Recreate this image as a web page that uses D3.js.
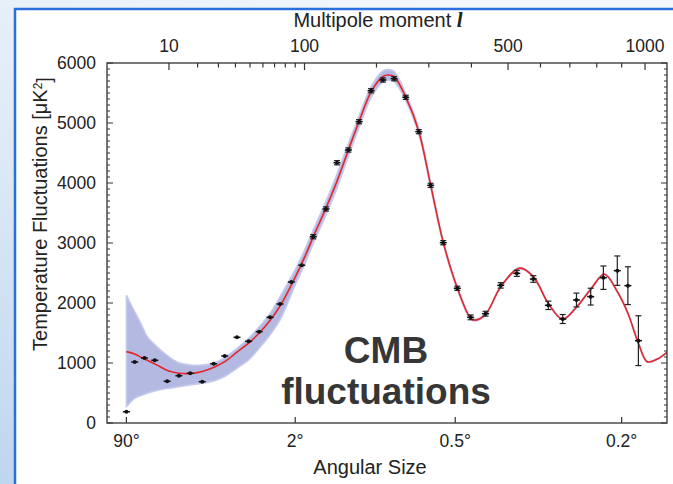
<!DOCTYPE html>
<html>
<head>
<meta charset="utf-8">
<script src="https://cdn.jsdelivr.net/npm/d3@7"></script>
<style>
  html, body { margin: 0; padding: 0; background: #fff; }
  text { font-family: "Liberation Sans", Arial, sans-serif; fill: #222; }
</style>
</head>
<body>
<div id="chart"></div>
<script>
// Theory curve (best fit) and its lavender band
const theoryL = [2, 3, 4, 5, 7, 10, 13, 17, 22, 28, 34, 41, 49, 57, 66, 75, 90, 100, 110, 125, 140, 156, 172, 191, 211, 220, 231, 253, 279, 304, 332, 365, 398, 410, 437, 479, 534, 577, 626, 675, 724, 777, 830, 882, 926, 971, 1010, 1053, 1100];
const theoryD = [1190, 1150, 1090, 1045, 965, 865, 830, 825, 860, 935, 1030, 1180, 1330, 1500, 1710, 1950, 2430, 2760, 3105, 3567, 4030, 4550, 5030, 5520, 5775, 5800, 5775, 5430, 4860, 3965, 3010, 2250, 1745, 1715, 1810, 2270, 2580, 2440, 1990, 1730, 1930, 2230, 2480, 2190, 1830, 1330, 1022, 1061, 1178];
const bandLo = [270, 410, 460, 495, 540, 578, 605, 633, 662, 705, 783, 912, 1050, 1245, 1467, 1717, 2300, 2640, 2990, 3450, 3910, 4440, 4920, 5420, 5680, 5710, 5690, 5370, 4810, 3925, 2980, 2225, 1725, 1700, 1797, 2258, 2570, 2430, 1980, 1720, 1920, 2220, 2470, 2180, 1820, 1320, 1012, 1051, 1168];
const bandHi = [2130, 1855, 1640, 1440, 1272, 1105, 1005, 967, 967, 1005, 1105, 1245, 1412, 1605, 1828, 2105, 2560, 2880, 3220, 3680, 4150, 4660, 5120, 5610, 5870, 5890, 5860, 5490, 4910, 4005, 3040, 2275, 1765, 1730, 1823, 2282, 2590, 2450, 2000, 1740, 1940, 2240, 2490, 2200, 1840, 1340, 1032, 1071, 1188];

// Measured band powers
const dataL = [2, 3, 4.5, 6.5, 9.5, 13, 17, 22, 27.5, 33.5, 41, 49, 57, 66, 75, 86, 97, 110, 125.5, 140, 156, 172, 191, 211, 231, 253, 279, 304, 332, 365, 398, 437, 479, 526, 577, 626, 675, 724, 777, 826, 882, 926, 971];
const dataD = [188, 1017, 1083, 1045, 695, 788, 828, 688, 988, 1117, 1428, 1361, 1522, 1761, 1983, 2350, 2630, 3105, 3567, 4338, 4550, 5022, 5538, 5717, 5738, 5428, 4855, 3961, 3005, 2245, 1761, 1822, 2294, 2494, 2400, 1961, 1733, 2050, 2106, 2422, 2539, 2289, 1372];
const dataErr = [15, 15, 15, 15, 15, 15, 15, 15, 15, 15, 15, 15, 15, 15, 15, 15, 15, 35, 35, 35, 35, 35, 35, 35, 35, 35, 35, 35, 35, 35, 40, 40, 45, 50, 55, 70, 75, 115, 140, 195, 245, 315, 415];

// Axis ticks
const multipoleTicks = [10, 20, 30, 40, 50, 60, 70, 80, 90, 100, 200, 300, 400, 500, 600, 700, 800, 900, 1000];
const multipoleLabels = [10, 100, 500, 1000];
const angleTicks = [90, 2, 0.5, 0.2];
const powerTicks = [0, 1000, 2000, 3000, 4000, 5000, 6000];

const W = 673, H = 484;
const margin = { top: 63, right: 6, bottom: 61, left: 107 };
const plotW = W - margin.left - margin.right;
const plotH = H - margin.top - margin.bottom;

const svg = d3.select("#chart").append("svg")
  .attr("width", W)
  .attr("height", H);

// slide background + white panel
const defs = svg.append("defs");
const bg = defs.append("linearGradient")
  .attr("id", "bg")
  .attr("x1", "0%").attr("y1", "100%")
  .attr("x2", "60%").attr("y2", "0%");
bg.append("stop").attr("offset", "0%").attr("stop-color", "#bfd6ef");
bg.append("stop").attr("offset", "50%").attr("stop-color", "#dde9f6");
bg.append("stop").attr("offset", "100%").attr("stop-color", "#f3f7fc");
svg.append("rect").attr("width", W).attr("height", H).attr("fill", "url(#bg)");
svg.append("rect")
  .attr("x", 15).attr("y", 9)
  .attr("width", W).attr("height", H)
  .attr("fill", "#fff")
  .attr("stroke", "#2a6fdc")
  .attr("stroke-width", 2.5);

defs.append("clipPath").attr("id", "plotclip")
  .append("rect").attr("width", plotW).attr("height", plotH);

const g = svg.append("g").attr("transform", `translate(${margin.left},${margin.top})`);

// multipole axis is neither log nor linear: l^0.4 fits the ticks
const x = d3.scalePow().exponent(0.4).domain([0.53, 1100]).range([0, plotW]);
const y = d3.scaleLinear().domain([0, 6000]).range([plotH, 0]);

// band
const theory = theoryL.map((l, i) => ({ l, d: theoryD[i], lo: bandLo[i], hi: bandHi[i] }));
const plot = g.append("g").attr("clip-path", "url(#plotclip)");

plot.append("path")
  .datum(theory)
  .attr("d", d3.area()
    .x(d => x(d.l))
    .y0(d => y(d.lo))
    .y1(d => y(d.hi))
    .curve(d3.curveCatmullRom))
  .attr("fill", "#b4b9e2")
  .attr("stroke", "#c7cbeb")
  .attr("stroke-width", 1.5);

plot.append("path")
  .datum(theory)
  .attr("d", d3.line()
    .x(d => x(d.l))
    .y(d => y(d.d))
    .curve(d3.curveCatmullRom))
  .attr("fill", "none")
  .attr("stroke", "#e3262a")
  .attr("stroke-width", 1.6);

// data points with error bars
const pts = dataL.map((l, i) => ({ l, d: dataD[i], e: dataErr[i] }));
const pg = g.append("g").selectAll("g").data(pts).enter().append("g")
  .attr("transform", d => `translate(${x(d.l)},${y(d.d)})`);
pg.append("line")
  .attr("x1", 0).attr("x2", 0)
  .attr("y1", d => y(d.d - d.e) - y(d.d))
  .attr("y2", d => y(d.d + d.e) - y(d.d))
  .attr("stroke", "#222").attr("stroke-width", 1.2);
pg.filter(d => d.e > 25).each(function(d) {
  const s = d3.select(this);
  [d.d - d.e, d.d + d.e].forEach(v => {
    s.append("line")
      .attr("x1", -3).attr("x2", 3)
      .attr("y1", y(v) - y(d.d)).attr("y2", y(v) - y(d.d))
      .attr("stroke", "#222").attr("stroke-width", 1.2);
  });
});
pg.append("line")
  .attr("x1", -3.5).attr("x2", 3.5)
  .attr("y1", 0).attr("y2", 0)
  .attr("stroke", "#111").attr("stroke-width", 1.5);
pg.append("circle").attr("r", 2).attr("fill", "#111");

// axes (ticks point inwards)
const axisColor = "#333";
const frame = g.append("g");
frame.append("rect")
  .attr("width", plotW).attr("height", plotH)
  .attr("fill", "none").attr("stroke", axisColor).attr("stroke-width", 1.3);

const minorY = d3.range(0, 6001, 100);
[0, plotW].forEach((xx, side) => {
  const dir = side === 0 ? 1 : -1;
  frame.selectAll(null).data(minorY).enter().append("line")
    .attr("x1", xx).attr("x2", d => xx + dir * (d % 1000 === 0 ? 6 : 3))
    .attr("y1", d => y(d)).attr("y2", d => y(d))
    .attr("stroke", axisColor).attr("stroke-width", 1);
});

g.selectAll(".ylab").data(powerTicks).enter().append("text")
  .attr("x", -11).attr("y", d => y(d))
  .attr("dy", "0.36em")
  .attr("text-anchor", "end")
  .style("font-size", "17.5px")
  .text(d => d);

// top multipole axis
frame.selectAll(null).data(multipoleTicks).enter().append("line")
  .attr("x1", d => x(d)).attr("x2", d => x(d))
  .attr("y1", 0).attr("y2", d => multipoleLabels.includes(d) ? 7 : 4.5)
  .attr("stroke", axisColor).attr("stroke-width", 1.2);
g.selectAll(".tlab").data(multipoleLabels).enter().append("text")
  .attr("x", d => x(d)).attr("y", -11)
  .attr("text-anchor", "middle")
  .style("font-size", "17.5px")
  .text(d => d);

// bottom angular axis
frame.selectAll(null).data(angleTicks).enter().append("line")
  .attr("x1", d => x(180 / d)).attr("x2", d => x(180 / d))
  .attr("y1", plotH).attr("y2", plotH - 6)
  .attr("stroke", axisColor).attr("stroke-width", 1.2);
g.selectAll(".blab").data(angleTicks).enter().append("text")
  .attr("x", d => x(180 / d)).attr("y", plotH + 24)
  .attr("text-anchor", "middle")
  .style("font-size", "17.5px")
  .text(d => d + "°");

// titles
const topTitle = svg.append("text")
  .attr("x", 378).attr("y", 27)
  .attr("text-anchor", "middle")
  .style("font-size", "20px");
topTitle.append("tspan").text("Multipole moment  ");
topTitle.append("tspan")
  .style("font-family", "'Liberation Serif', serif")
  .style("font-style", "italic")
  .style("font-weight", "bold")
  .style("font-size", "21px")
  .text("l");

svg.append("text")
  .attr("x", 370).attr("y", 474)
  .attr("text-anchor", "middle")
  .style("font-size", "20px")
  .text("Angular Size");

const yTitle = svg.append("text")
  .attr("transform", "translate(47,214) rotate(-90)")
  .attr("text-anchor", "middle")
  .style("font-size", "20px");
yTitle.append("tspan").text("Temperature Fluctuations [μK");
yTitle.append("tspan").attr("dy", "-0.45em").style("font-size", "12px").text("2");
yTitle.append("tspan").attr("dy", "0.45em").text("]");

// overlay label
svg.append("text")
  .attr("x", 386).attr("y", 363)
  .attr("text-anchor", "middle")
  .style("font-size", "37px").style("font-weight", "bold").style("fill", "#363636")
  .text("CMB");
svg.append("text")
  .attr("x", 386).attr("y", 404)
  .attr("text-anchor", "middle")
  .style("font-size", "37px").style("font-weight", "bold").style("fill", "#363636")
  .text("fluctuations");
</script>
</body>
</html>
